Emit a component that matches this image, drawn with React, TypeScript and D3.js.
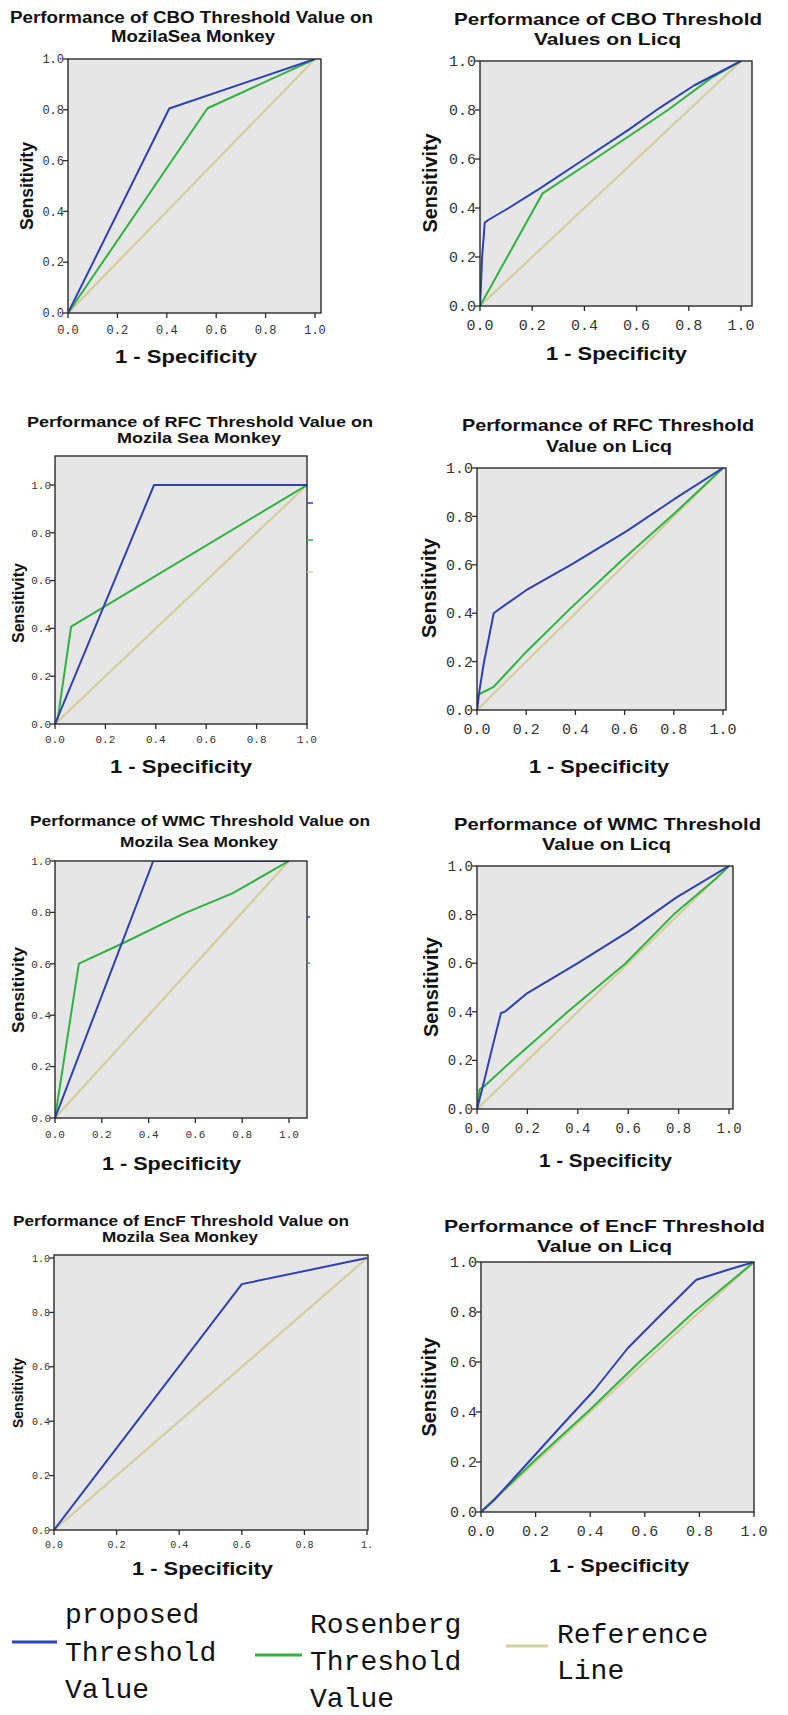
import React from "react";
import * as d3 from "d3";

type Pt = [number, number];

// ---------- data ----------
const xTicks = [0, 0.2, 0.4, 0.6, 0.8, 1.0];
const yTicks = [0, 0.2, 0.4, 0.6, 0.8, 1.0];
const tickLabels = ["0.0", "0.2", "0.4", "0.6", "0.8", "1.0"];
const tickLabelsCut = ["0.0", "0.2", "0.4", "0.6", "0.8", "1."];

const referenceLine: Pt[] = [[0, 0], [1, 1]];

const cboMozillaProposed: Pt[] = [[0, 0], [0.41, 0.805], [1, 1]];
const cboMozillaRosenberg: Pt[] = [[0, 0], [0.565, 0.806], [1, 1]];

const cboLicqProposed: Pt[] = [[0, 0], [0.005, 0.12], [0.008, 0.2], [0.014, 0.28], [0.018, 0.34], [0.03, 0.35], [0.11, 0.4], [0.23, 0.48], [0.4, 0.6], [0.57, 0.72], [0.69, 0.81], [0.82, 0.9], [1, 1]];
const cboLicqRosenberg: Pt[] = [[0, 0], [0.24, 0.46], [0.44, 0.6], [0.72, 0.8], [0.885, 0.93], [1, 1]];

const rfcMozillaProposed: Pt[] = [[0, 0], [0.393, 1.0], [1, 1]];
const rfcMozillaRosenberg: Pt[] = [[0, 0], [0.012, 0.03], [0.064, 0.407], [1, 1]];

const rfcLicqProposed: Pt[] = [[0, 0], [0.01, 0.08], [0.027, 0.19], [0.068, 0.4], [0.081, 0.41], [0.2, 0.495], [0.39, 0.605], [0.61, 0.74], [0.8, 0.87], [1, 1]];
const rfcLicqRosenberg: Pt[] = [[0, 0], [0.002, 0.062], [0.068, 0.096], [0.2, 0.24], [0.38, 0.42], [0.59, 0.62], [0.8, 0.81], [1, 1]];

const wmcMozillaProposed: Pt[] = [[0, 0], [0.42, 1.0], [1, 1]];
const wmcMozillaRosenberg: Pt[] = [[0, 0], [0.102, 0.601], [0.29, 0.68], [0.55, 0.795], [0.76, 0.875], [1, 1]];

const wmcLicqProposed: Pt[] = [[0, 0], [0.02, 0.08], [0.06, 0.25], [0.095, 0.395], [0.11, 0.4], [0.2, 0.477], [0.4, 0.6], [0.6, 0.73], [0.79, 0.87], [1, 1]];
const wmcLicqRosenberg: Pt[] = [[0, 0], [0.01, 0.08], [0.03, 0.095], [0.14, 0.2], [0.36, 0.4], [0.59, 0.6], [0.78, 0.8], [0.95, 0.95], [1, 1]];

const encfMozillaProposed: Pt[] = [[0, 0], [0.6, 0.904], [1, 1]];

const encfLicqProposed: Pt[] = [[0, 0], [0.049, 0.049], [0.171, 0.196], [0.293, 0.343], [0.416, 0.489], [0.538, 0.656], [0.66, 0.79], [0.758, 0.896], [0.789, 0.929], [0.905, 0.969], [1, 1]];
const encfLicqRosenberg: Pt[] = [[0, 0], [0.2, 0.21], [0.4, 0.41], [0.58, 0.6], [0.78, 0.8], [1, 1]];

const legendLabels = [
  ["proposed", "Threshold", "Value"],
  ["Rosenberg", "Threshold", "Value"],
  ["Reference", "Line"],
];

const BLUE = "#2f40b6";
const GREEN = "#2fb240";
const TAN = "#d2ce9c";
const seriesColors = [BLUE, GREEN, TAN];

// ---------- layout ----------
interface TitleLine { text: string; l: number; r: number; b: number }
interface PanelCfg {
  id: string;
  x0: number; x1: number; right: number;
  yb: number; yt: number; top: number;
  tickFont: number; xTickBase: number;
  xLabels: string[];
  title: TitleLine[]; titleSize: number;
  xlab: { l: number; r: number; b: number; size: number };
  ylab: { cx: number; cy: number; len: number; size: number };
  proposed: Pt[]; rosenberg?: Pt[];
  stubs?: { x1: number; x2: number; y: number; c: string }[];
}

const panels: PanelCfg[] = [
  {
    id: "p1", x0: 68, x1: 315, right: 321, yb: 313, yt: 59, top: 59, tickFont: 12, xTickBase: 334, xLabels: tickLabels,
    title: [
      { text: "Performance of CBO Threshold Value on", l: 10, r: 373, b: 23 },
      { text: "MozilaSea Monkey", l: 111, r: 275, b: 42 },
    ], titleSize: 16,
    xlab: { l: 115, r: 257, b: 363, size: 18 }, ylab: { cx: 27, cy: 186, len: 88, size: 18 },
    proposed: cboMozillaProposed, rosenberg: cboMozillaRosenberg,
  },
  {
    id: "p2", x0: 480, x1: 741, right: 752, yb: 306, yt: 61, top: 61, tickFont: 15, xTickBase: 330, xLabels: tickLabels,
    title: [
      { text: "Performance of CBO Threshold", l: 454, r: 762, b: 25 },
      { text: "Values on Licq", l: 534, r: 681, b: 45 },
    ], titleSize: 17,
    xlab: { l: 546, r: 687, b: 360, size: 19 }, ylab: { cx: 430, cy: 183, len: 99, size: 20 },
    proposed: cboLicqProposed, rosenberg: cboLicqRosenberg,
  },
  {
    id: "p3", x0: 55, x1: 307, right: 307, yb: 724, yt: 485, top: 456, tickFont: 11, xTickBase: 743, xLabels: tickLabels,
    title: [
      { text: "Performance of RFC Threshold Value on", l: 27, r: 373, b: 427 },
      { text: "Mozila Sea Monkey", l: 117, r: 281, b: 443 },
    ], titleSize: 15,
    xlab: { l: 110, r: 252, b: 773, size: 18 }, ylab: { cx: 18, cy: 603, len: 80, size: 17 },
    proposed: rfcMozillaProposed, rosenberg: rfcMozillaRosenberg,
    stubs: [
      { x1: 307, x2: 313, y: 503, c: BLUE },
      { x1: 307, x2: 313, y: 540, c: GREEN },
      { x1: 307, x2: 313, y: 572, c: TAN },
    ],
  },
  {
    id: "p4", x0: 477, x1: 723, right: 726, yb: 710, yt: 468, top: 468, tickFont: 15, xTickBase: 734, xLabels: tickLabels,
    title: [
      { text: "Performance of RFC Threshold", l: 462, r: 754, b: 431 },
      { text: "Value on Licq", l: 546, r: 672, b: 452 },
    ], titleSize: 17,
    xlab: { l: 529, r: 669, b: 773, size: 19 }, ylab: { cx: 429, cy: 588, len: 100, size: 20 },
    proposed: rfcLicqProposed, rosenberg: rfcLicqRosenberg,
  },
  {
    id: "p5", x0: 55, x1: 289, right: 307, yb: 1118, yt: 861, top: 861, tickFont: 11, xTickBase: 1138, xLabels: tickLabels,
    title: [
      { text: "Performance of WMC Threshold Value on", l: 30, r: 370, b: 826 },
      { text: "Mozila Sea Monkey", l: 120, r: 278, b: 847 },
    ], titleSize: 15,
    xlab: { l: 102, r: 241, b: 1170, size: 18 }, ylab: { cx: 18, cy: 990, len: 86, size: 17 },
    proposed: wmcMozillaProposed, rosenberg: wmcMozillaRosenberg,
    stubs: [
      { x1: 307, x2: 310, y: 917, c: BLUE },
      { x1: 307, x2: 310, y: 963, c: GREEN },
    ],
  },
  {
    id: "p6", x0: 477, x1: 729, right: 733, yb: 1109, yt: 866, top: 866, tickFont: 14, xTickBase: 1133, xLabels: tickLabels,
    title: [
      { text: "Performance of WMC Threshold", l: 454, r: 761, b: 830 },
      { text: "Value on Licq", l: 542, r: 671, b: 850 },
    ], titleSize: 17,
    xlab: { l: 539, r: 672, b: 1167, size: 19 }, ylab: { cx: 431, cy: 987, len: 100, size: 20 },
    proposed: wmcLicqProposed, rosenberg: wmcLicqRosenberg,
  },
  {
    id: "p7", x0: 54, x1: 367, right: 368, yb: 1530, yt: 1258, top: 1255, tickFont: 10, xTickBase: 1548, xLabels: tickLabelsCut,
    title: [
      { text: "Performance of EncF Threshold Value on", l: 13, r: 349, b: 1226 },
      { text: "Mozila Sea Monkey", l: 102, r: 258, b: 1242 },
    ], titleSize: 14,
    xlab: { l: 132, r: 273, b: 1575, size: 18 }, ylab: { cx: 18, cy: 1393, len: 70, size: 15 },
    proposed: encfMozillaProposed,
  },
  {
    id: "p8", x0: 481, x1: 754, right: 754, yb: 1512, yt: 1262, top: 1262, tickFont: 15, xTickBase: 1536, xLabels: tickLabels,
    title: [
      { text: "Performance of EncF Threshold", l: 444, r: 765, b: 1232 },
      { text: "Value on Licq", l: 537, r: 672, b: 1252 },
    ], titleSize: 17,
    xlab: { l: 549, r: 689, b: 1572, size: 19 }, ylab: { cx: 429, cy: 1387, len: 99, size: 20 },
    proposed: encfLicqProposed, rosenberg: encfLicqRosenberg,
  },
];

const legendItems = [
  { lx1: 12, lx2: 57, ly: 1642, tx: 65, bases: [1623, 1661, 1698] },
  { lx1: 255, lx2: 302, ly: 1655, tx: 310, bases: [1633, 1670, 1707] },
  { lx1: 506, lx2: 548, ly: 1646, tx: 557, bases: [1643, 1679] },
];

const SANS = "'Liberation Sans', Arial, Helvetica, sans-serif";
const MONO = "'Liberation Mono', 'DejaVu Sans Mono', monospace";

function Panel({ cfg }: { cfg: PanelCfg }) {
  const x = d3.scaleLinear().domain([0, 1]).range([cfg.x0, cfg.x1]);
  const y = d3.scaleLinear().domain([0, 1]).range([cfg.yb, cfg.yt]);
  const line = d3.line<Pt>().x((d) => x(d[0])).y((d) => y(d[1]));
  const w = cfg.right - cfg.x0;
  const h = cfg.yb - cfg.top;
  return (
    <g>
      <defs>
        <clipPath id={`clip-${cfg.id}`}>
          <rect x={cfg.x0} y={cfg.top} width={w} height={h} />
        </clipPath>
      </defs>
      {cfg.title.map((t, i) => (
        <text key={i} x={t.l} y={t.b} fontFamily={SANS} fontWeight="bold" fontSize={cfg.titleSize}
          fill="#111" textLength={t.r - t.l} lengthAdjust="spacingAndGlyphs">{t.text}</text>
      ))}
      <rect x={cfg.x0} y={cfg.top} width={w} height={h} fill="#e6e6e6" />
      <g clipPath={`url(#clip-${cfg.id})`}>
        <path d={line(referenceLine) || ""} fill="none" stroke={TAN} strokeWidth={2.2} />
        {cfg.rosenberg && <path d={line(cfg.rosenberg) || ""} fill="none" stroke={GREEN} strokeWidth={2} strokeLinejoin="round" />}
        <path d={line(cfg.proposed) || ""} fill="none" stroke={BLUE} strokeWidth={2} strokeLinejoin="round" />
      </g>
      <rect x={cfg.x0} y={cfg.top} width={w} height={h} fill="none" stroke="#2a2a2a" strokeWidth={1.4} />
      {xTicks.map((v, i) => (
        <g key={`xt${i}`}>
          <line x1={x(v)} x2={x(v)} y1={cfg.yb} y2={cfg.yb + 5} stroke="#2a2a2a" strokeWidth={1.3} />
          <text x={x(v)} y={cfg.xTickBase} textAnchor="middle" fontFamily={MONO} fontSize={cfg.tickFont} fill="#333">{cfg.xLabels[i]}</text>
        </g>
      ))}
      {yTicks.map((v, i) => (
        <g key={`yt${i}`}>
          <line x1={cfg.x0 - 5} x2={cfg.x0} y1={y(v)} y2={y(v)} stroke="#2a2a2a" strokeWidth={1.3} />
          <text x={cfg.x0 - 4} y={y(v)} dy="0.35em" textAnchor="end" fontFamily={MONO} fontSize={cfg.tickFont} fill="#333">{tickLabels[i]}</text>
        </g>
      ))}
      <text x={cfg.xlab.l} y={cfg.xlab.b} fontFamily={SANS} fontWeight="bold" fontSize={cfg.xlab.size} fill="#111"
        textLength={cfg.xlab.r - cfg.xlab.l} lengthAdjust="spacingAndGlyphs">1 - Specificity</text>
      <text transform={`translate(${cfg.ylab.cx},${cfg.ylab.cy}) rotate(-90)`} textAnchor="middle" dy="0.35em"
        fontFamily={SANS} fontWeight="bold" fontSize={cfg.ylab.size} fill="#111"
        textLength={cfg.ylab.len} lengthAdjust="spacingAndGlyphs">Sensitivity</text>
      {cfg.stubs && cfg.stubs.map((s, i) => (
        <line key={`s${i}`} x1={s.x1} x2={s.x2} y1={s.y} y2={s.y} stroke={s.c} strokeWidth={1.5} />
      ))}
    </g>
  );
}

export default function App() {
  return (
    <div style={{ position: "absolute", left: 0, top: 0 }}>
      <svg width={788} height={1715} style={{ display: "block", background: "#fff" }}>
        <rect x={0} y={0} width={788} height={1715} fill="#fff" />
        {panels.map((p) => <Panel key={p.id} cfg={p} />)}
        {legendItems.map((it, i) => (
          <g key={`lg${i}`}>
            <line x1={it.lx1} x2={it.lx2} y1={it.ly} y2={it.ly} stroke={seriesColors[i]} strokeWidth={3} />
            {legendLabels[i].map((t, j) => (
              <text key={j} x={it.tx} y={it.bases[j]} fontFamily={MONO} fontSize={28} fill="#111">{t}</text>
            ))}
          </g>
        ))}
      </svg>
    </div>
  );
}
